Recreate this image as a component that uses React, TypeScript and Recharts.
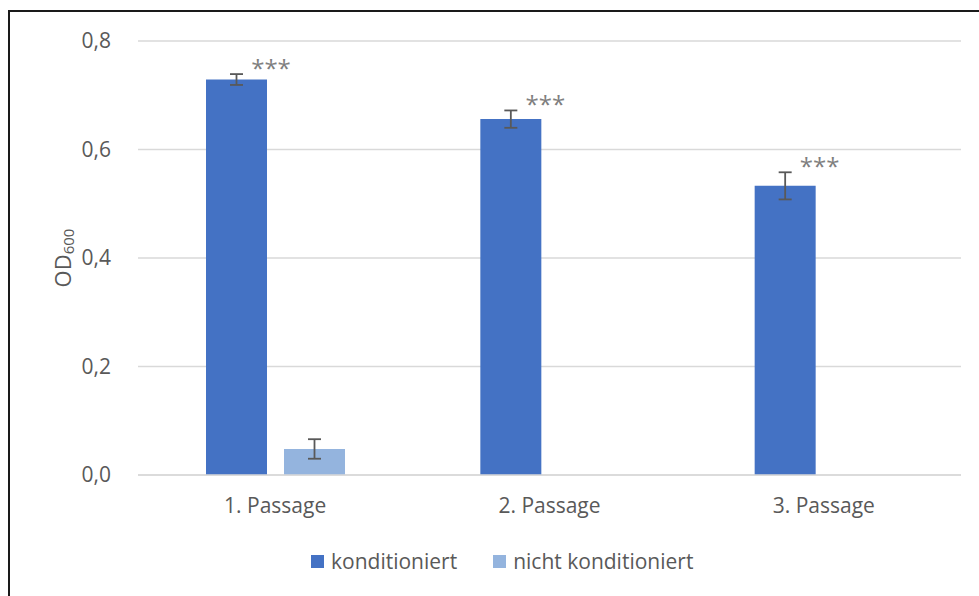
import { BarChart, Bar, XAxis, YAxis, CartesianGrid, Legend, ErrorBar, LabelList } from "recharts";

const passages = ["1. Passage", "2. Passage", "3. Passage"];
const konditioniert = [0.729, 0.656, 0.533];
const konditioniertErr = [0.01, 0.016, 0.025];
const nichtKonditioniert = [0.048, null, null];
const nichtKonditioniertErr = [0.018, null, null];
const signifikanz = ["***", "***", "***"];
const yTicks = [0, 0.2, 0.4, 0.6, 0.8];

const FONT = "'Open Sans', sans-serif";
const GREY = "#595959";
const BLUE = "#4472C4";
const LIGHT_BLUE = "#94B4DE";

const data = passages.map((p, i) => ({
  passage: p,
  k: konditioniert[i],
  kErr: konditioniertErr[i],
  n: nichtKonditioniert[i],
  nErr: nichtKonditioniertErr[i],
  sig: signifikanz[i],
}));

const fmt = (v: number) => v.toFixed(1).replace(".", ",");

// stars sit just above the upper whisker, right of the bar
function SigLabel(props: any) {
  const { x, y, width, height, value, index } = props;
  if (!value) return null;
  const pxPerUnit = height / konditioniert[index];
  const errTop = y - konditioniertErr[index] * pxPerUnit;
  return (
    <text
      x={x + width + 4}
      y={errTop + 3}
      textAnchor="middle"
      fill="#7F7F7F"
      fontSize={24}
      fontFamily={FONT}
    >
      {value}
    </text>
  );
}

function OdLabel(props: any) {
  const { viewBox } = props;
  const cx = viewBox.x + 62;
  const cy = viewBox.y + viewBox.height / 2;
  return (
    <text
      x={cx}
      y={cy}
      transform={`rotate(-90, ${cx}, ${cy})`}
      textAnchor="middle"
      dominantBaseline="central"
      fill={GREY}
      fontFamily={FONT}
      fontSize={22}
    >
      OD
      <tspan fontSize={15} dy={6}>
        600
      </tspan>
    </text>
  );
}

function LegendContent() {
  const items = [
    { label: "konditioniert", color: BLUE },
    { label: "nicht konditioniert", color: LIGHT_BLUE },
  ];
  return (
    <div style={{ display: "flex", alignItems: "center", height: 30, fontFamily: FONT, fontSize: 21, color: GREY }}>
      {items.map((it, i) => (
        <div key={it.label} style={{ display: "flex", alignItems: "center", marginLeft: i ? 36 : 0 }}>
          <span style={{ width: 13, height: 13, background: it.color, marginRight: 7, display: "inline-block" }} />
          <span style={{ whiteSpace: "nowrap" }}>{it.label}</span>
        </div>
      ))}
    </div>
  );
}

export default function App() {
  return (
    <div style={{ position: "absolute", left: 0, top: 0, width: 979, height: 596, background: "#fff" }}>
      <div
        style={{
          position: "absolute",
          left: 8,
          top: 10,
          width: 971,
          height: 586,
          borderTop: "2px solid #1a1a1a",
          borderLeft: "2px solid #1a1a1a",
          boxSizing: "border-box",
        }}
      />
      <BarChart
        width={979}
        height={596}
        data={data}
        margin={{ top: 41, right: 18, bottom: 20, left: 0 }}
        barSize={61}
        barGap={17}
        style={{ position: "absolute", left: 0, top: 0 }}
      >
        <CartesianGrid vertical={false} stroke="#D9D9D9" strokeWidth={1.5} />
        <XAxis
          dataKey="passage"
          height={71}
          tickLine={false}
          tickSize={0}
          tickMargin={23}
          axisLine={{ stroke: "#D9D9D9", strokeWidth: 1.5 }}
          tick={{ fill: GREY, fontSize: 21, fontFamily: FONT }}
        />
        <YAxis
          width={138}
          domain={[0, 0.8]}
          ticks={yTicks}
          tickFormatter={fmt}
          axisLine={false}
          tickLine={false}
          tickSize={0}
          tickMargin={27}
          tick={{ fill: GREY, fontSize: 21, fontFamily: FONT }}
          label={<OdLabel />}
        />
        <Legend
          verticalAlign="bottom"
          content={<LegendContent />}
          wrapperStyle={{ left: 311, width: "auto", height: 30 }}
        />
        <Bar dataKey="k" name="konditioniert" fill={BLUE} isAnimationActive={false}>
          <ErrorBar dataKey="kErr" width={6.5} stroke={GREY} strokeWidth={1.8} direction="y" isAnimationActive={false} />
          <LabelList dataKey="sig" content={<SigLabel />} />
        </Bar>
        <Bar dataKey="n" name="nicht konditioniert" fill={LIGHT_BLUE} isAnimationActive={false}>
          <ErrorBar dataKey="nErr" width={6.5} stroke={GREY} strokeWidth={1.8} direction="y" isAnimationActive={false} />
        </Bar>
      </BarChart>
    </div>
  );
}
